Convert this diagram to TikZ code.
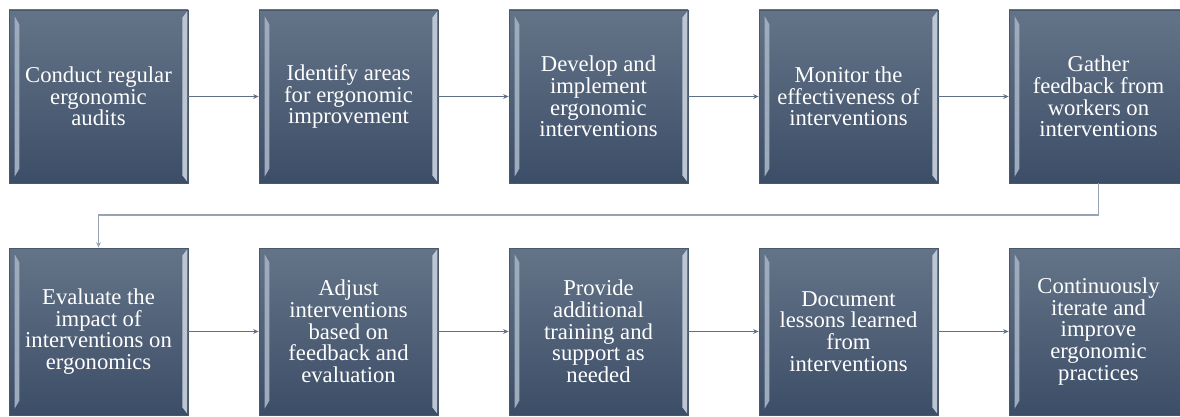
\documentclass[tikz,border=0pt]{standalone}
\usepackage{fontspec}
\setmainfont{Liberation Serif}
\newfontfamily\boxfont{Liberation Serif}
\usetikzlibrary{arrows.meta,calc}
\definecolor{boxtop}{HTML}{647488}
\definecolor{boxbot}{HTML}{3C4D67}
\definecolor{boxedge}{HTML}{4A586C}
\definecolor{bevL}{HTML}{9EABBD}
\definecolor{bevR}{HTML}{BCC6D3}
\definecolor{arr}{HTML}{5F6F86}
\definecolor{arrlight}{HTML}{98A3B4}
\begin{document}
\begin{tikzpicture}[x=0.75pt,y=-0.75pt,
  stepbox/.style={rectangle, top color=boxtop, bottom color=boxbot, draw=boxedge, line width=0.6pt,
    minimum width=134.25pt, minimum height=129.75pt, inner sep=0pt, text=white, align=center,
    font=\boxfont\fontsize{17}{16.3}\selectfont},
  lowbox/.style={stepbox, minimum height=125.25pt},
  link/.style={draw=arr, line width=0.75pt, -{Stealth[length=4pt,width=3.5pt]}},
  backlink/.style={draw=arrlight, line width=0.9pt, -{Stealth[length=4pt,width=3.5pt]}},
]
\useasboundingbox (0,0) rectangle (1180,417);
\node[stepbox] (a1) at (98.5,96.5) {Conduct regular\\ergonomic\\audits};
\node[stepbox] (a2) at (348.5,96.5) {Identify areas\\for ergonomic\\improvement};
\node[stepbox] (a3) at (598.5,96.5) {Develop and\\implement\\ergonomic\\interventions};
\node[stepbox] (a4) at (848.5,96.5) {Monitor the\\effectiveness of\\interventions};
\node[stepbox] (a5) at (1098.5,96.5) {Gather\\feedback from\\workers on\\interventions};
\node[lowbox] (b1) at (98.5,331.5) {Evaluate the\\impact of\\interventions on\\ergonomics};
\node[lowbox] (b2) at (348.5,331.5) {Adjust\\interventions\\based on\\feedback and\\evaluation};
\node[lowbox] (b3) at (598.5,331.5) {Provide\\additional\\training and\\support as\\needed};
\node[lowbox] (b4) at (848.5,331.5) {Document\\lessons learned\\from\\interventions};
\node[lowbox] (b5) at (1098.5,331.5) {Continuously\\iterate and\\improve\\ergonomic\\practices};
\foreach \n in {a1,a2,a3,a4,a5,b1,b2,b3,b4,b5}{
  \fill[bevL] ($(\n.north west)+(4.5pt,-5pt)$) -- ($(\n.north west)+(8pt,-11pt)$)
     -- ($(\n.south west)+(8pt,11pt)$) -- ($(\n.south west)+(4.5pt,5pt)$) -- cycle;
  \fill[bevR] ($(\n.north east)+(-1pt,-1.5pt)$) -- ($(\n.north east)+(-4.5pt,-6pt)$)
     -- ($(\n.south east)+(-4.5pt,6pt)$) -- ($(\n.south east)+(-1pt,1.5pt)$) -- cycle;
}
\draw[link] (a1) -- (a2);
\draw[link] (a2) -- (a3);
\draw[link] (a3) -- (a4);
\draw[link] (a4) -- (a5);
\coordinate (t1) at (1098.5,215);
\coordinate (t2) at (98.5,215);
\draw[backlink] (a5.south) -- (t1) -- (t2) -- (b1.north);
\draw[link] (b1) -- (b2);
\draw[link] (b2) -- (b3);
\draw[link] (b3) -- (b4);
\draw[link] (b4) -- (b5);
\end{tikzpicture}
\end{document}
